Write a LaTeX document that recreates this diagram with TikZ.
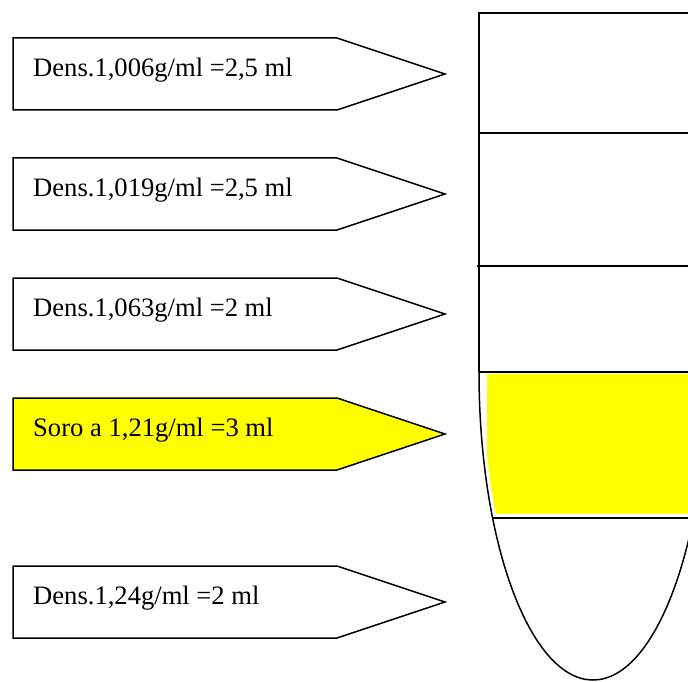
\documentclass[tikz,border=0pt]{standalone}
\usepackage{fontspec}
\setmainfont{Liberation Serif}
\definecolor{serumyellow}{RGB}{255,255,0}
\begin{document}
\begin{tikzpicture}[x=1pt,y=-1pt,
  tagshape/.style={draw=black,line width=1.5pt,line join=miter},
  lbl/.style={anchor=base west,inner sep=0pt,font=\fontsize{26.6}{30}\selectfont},
  tubeline/.style={draw=black,line width=1.5pt}]
\useasboundingbox (0,0) rectangle (688,682);
\clip (0,0) rectangle (688,682);

% ---- label arrows ----
\foreach \t/\n/\f in {38/a1/white,158/a2/white,278/a3/white,398/a4/serumyellow,566/a5/white}{
  \draw[tagshape,fill=\f] (13,\t) -- (337,\t) -- (445,\t+36) -- (337,\t+72) -- (13,\t+72) -- cycle;
  \coordinate (\n) at (33,\t+38.5);
}
\node[lbl] (t1) at (a1) {Dens.1,006g/ml =2,5 ml};
\node[lbl] (t2) at (a2) {Dens.1,019g/ml =2,5 ml};
\node[lbl] (t3) at (a3) {Dens.1,063g/ml =2 ml};
\node[lbl] (t4) at (a4) {Soro a 1,21g/ml =3 ml};
\node[lbl] (t5) at (a5) {Dens.1,24g/ml =2 ml};

% ---- tube ----
\coordinate (tc) at (593,372);
\begin{scope}
  \clip (tc) ellipse [x radius=110, y radius=304];
  \fill[serumyellow] (487,374) rectangle (700,514);
\end{scope}
\draw[tubeline] (700,13) -- (479,13) -- (479,372);
\begin{scope}
  \clip (400,372) rectangle (720,700);
  \draw[tubeline] (tc) ellipse [x radius=114, y radius=308];
\end{scope}
\draw[tubeline] (479,133) -- (700,133);
\draw[tubeline] (477,266) -- (700,266);
\draw[tubeline] (479,372) -- (700,372);
\draw[tubeline] (493,518) -- (700,518);
\end{tikzpicture}
\end{document}
